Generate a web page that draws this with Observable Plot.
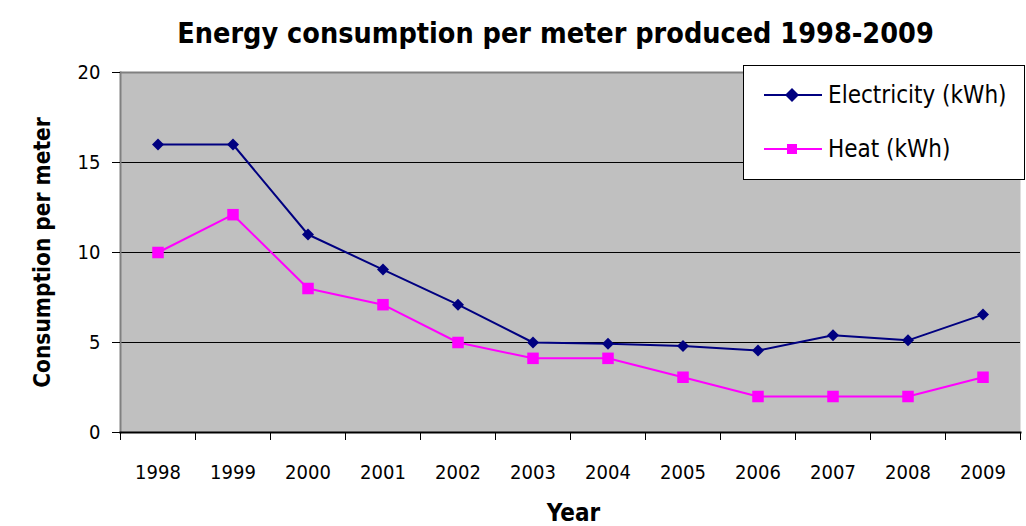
<!DOCTYPE html>
<html>
<head>
<meta charset="utf-8">
<script src="https://cdn.jsdelivr.net/npm/d3@7"></script>
<script src="https://cdn.jsdelivr.net/npm/@observablehq/plot@0.6"></script>
<style>
  html, body { margin: 0; padding: 0; background: #fff; }
  #wrap { position: relative; width: 1026px; height: 526px; font-family: "DejaVu Sans Condensed", "DejaVu Sans", sans-serif; }
  #legend { position: absolute; left: 743px; top: 65px; width: 282px; height: 115px; background: #fff; border: 1px solid #000; box-sizing: border-box; }
  .item { position: absolute; left: 20px; display: flex; align-items: center; font-size: 24px; color: #000; }
  .item svg { margin-right: 6px; }
</style>
</head>
<body>
<div id="wrap"></div>
<script>
const years = [1998, 1999, 2000, 2001, 2002, 2003, 2004, 2005, 2006, 2007, 2008, 2009];
const electricity = [16, 16, 11, 9.05, 7.1, 5.0, 4.93, 4.8, 4.55, 5.4, 5.12, 6.55];
const heat = [10, 12.1, 8, 7.1, 5, 4.12, 4.12, 3.07, 2, 2, 2, 3.07];
const yTicks = [0, 5, 10, 15, 20];
const gridLines = [5, 10, 15];
const seriesNames = ["Electricity (kWh)", "Heat (kWh)"];
const seriesColors = ["#000080", "#ff00ff"];

const elecData = years.map((y, i) => ({year: y, value: electricity[i]}));
const heatData = years.map((y, i) => ({year: y, value: heat[i]}));
const boundaries = years.map(y => y - 0.5).concat([years[years.length - 1] + 0.5]);

const font = "DejaVu Sans Condensed, DejaVu Sans, sans-serif";

const chart = Plot.plot({
  width: 1026,
  height: 526,
  marginLeft: 120,
  marginRight: 6,
  marginTop: 72,
  marginBottom: 94,
  style: {fontFamily: font, background: "#fff", overflow: "visible"},
  x: {domain: [boundaries[0], boundaries[boundaries.length - 1]], axis: null},
  y: {domain: [0, 20], axis: null},
  marks: [
    Plot.frame({fill: "#c0c0c0", stroke: "none"}),
    Plot.ruleY(gridLines, {stroke: "#000", strokeWidth: 1}),
    Plot.ruleY([20], {stroke: "#808080", strokeWidth: 2}),
    Plot.frame({anchor: "left", stroke: "#808080", strokeWidth: 2}),
    Plot.frame({anchor: "bottom", stroke: "#000", strokeWidth: 2}),
    Plot.axisX({ticks: boundaries, tickSize: 8, tickFormat: () => "", stroke: "#000", label: null}),
    Plot.axisX({ticks: years, tickSize: 0, tickPadding: 32, tickFormat: d => String(d), fontSize: 20, fill: "#000", label: null}),
    Plot.axisY({ticks: yTicks, tickSize: 8, tickPadding: 12, fontSize: 20, fill: "#000", stroke: "#000", label: null}),
    Plot.line(elecData, {x: "year", y: "value", stroke: seriesColors[0], strokeWidth: 2}),
    Plot.dot(elecData, {x: "year", y: "value", symbol: "diamond2", r: 5.4, fill: seriesColors[0], stroke: "none"}),
    Plot.line(heatData, {x: "year", y: "value", stroke: seriesColors[1], strokeWidth: 2}),
    Plot.dot(heatData, {x: "year", y: "value", symbol: "square", r: 6.5, fill: seriesColors[1], stroke: "none"}),
    Plot.text(["Energy consumption per meter produced 1998-2009"], {frameAnchor: "top", dx: -15, dy: -50, fontSize: 28.5, fontWeight: "bold", fill: "#000"}),
    Plot.text(["Year"], {frameAnchor: "bottom", dx: 3, dy: 88, fontSize: 24, fontWeight: "bold", fill: "#000"}),
    Plot.text(["Consumption per meter"], {frameAnchor: "left", textAnchor: "middle", dx: -78, rotate: -90, fontSize: 22.5, fontWeight: "bold", fill: "#000"})
  ]
});

const wrap = document.getElementById("wrap");
wrap.appendChild(chart);

const legend = document.createElement("div");
legend.id = "legend";
const symbols = ["diamond", "square"];
seriesNames.forEach((name, i) => {
  const item = document.createElement("div");
  item.className = "item";
  item.style.top = (i === 0 ? 15 : 69) + "px";
  const sym = symbols[i] === "diamond"
    ? '<polygon points="28,1 35,8 28,15 21,8" fill="' + seriesColors[i] + '"/>'
    : '<rect x="23" y="3" width="10" height="10" fill="' + seriesColors[i] + '"/>';
  item.innerHTML = '<svg width="58" height="16"><line x1="0" y1="8" x2="58" y2="8" stroke="' + seriesColors[i] + '" stroke-width="2"/>' + sym + '</svg><span>' + name + '</span>';
  legend.appendChild(item);
});
wrap.appendChild(legend);
</script>
</body>
</html>
